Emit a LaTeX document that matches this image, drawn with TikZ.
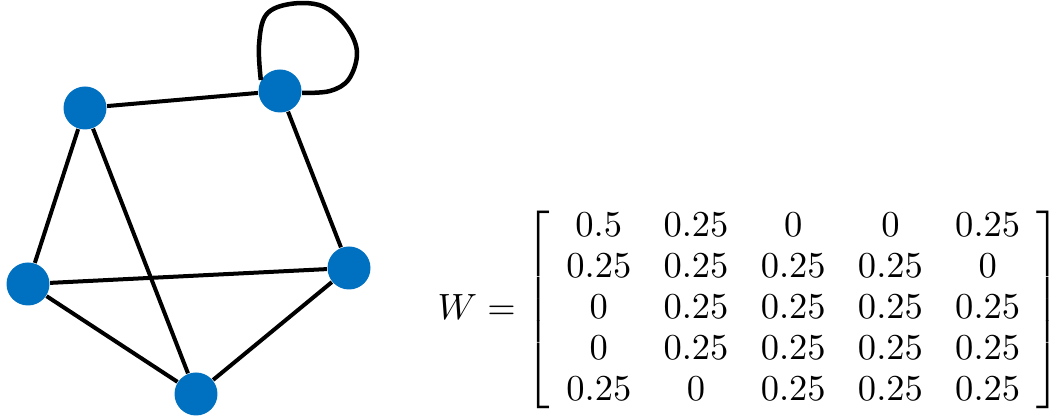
\documentclass[tikz,border=0pt]{standalone}
\usepackage{amsmath}
\begin{document}
\begin{tikzpicture}[x=0.3pt,y=-0.3pt,
  vtx/.style={circle,fill=vblue,inner sep=0pt,minimum size=12.9pt},
  link/.style={line width=1.2pt,black}]
  \definecolor{vblue}{RGB}{0,112,192}
  \useasboundingbox (0,0) rectangle (1050,419);
  % vertices
  \node[vtx] (a) at (85,108) {};
  \node[vtx] (b) at (280,91) {};
  \node[vtx] (c) at (28,284) {};
  \node[vtx] (d) at (349,268) {};
  \node[vtx] (e) at (196,394) {};
  % edges
  \draw[link] (a) -- (b);
  \draw[link] (a) -- (c);
  \draw[link] (a) -- (e);
  \draw[link] (b) -- (d);
  \draw[link] (c) -- (d);
  \draw[link] (c) -- (e);
  \draw[link] (d) -- (e);
  % self loop on b
  \draw[link,line width=1.35pt] plot[smooth,tension=0.6] coordinates
    {(b.150) (259,45) (266,15) (290,4) (322,6) (346,26) (357,52) (349,79) (330,91) (b.355)};
  % weight matrix
  \node[anchor=west,inner sep=0pt] (w) at (437,310) {%
    \fontsize{10.7pt}{12.3pt}\selectfont
    \setlength{\arraycolsep}{4.85pt}%
    $W = \left[\begin{array}{ccccc}
      0.5  & 0.25 & 0    & 0    & 0.25\\
      0.25 & 0.25 & 0.25 & 0.25 & 0\\
      0    & 0.25 & 0.25 & 0.25 & 0.25\\
      0    & 0.25 & 0.25 & 0.25 & 0.25\\
      0.25 & 0    & 0.25 & 0.25 & 0.25
    \end{array}\right]$};
\end{tikzpicture}
\end{document}
